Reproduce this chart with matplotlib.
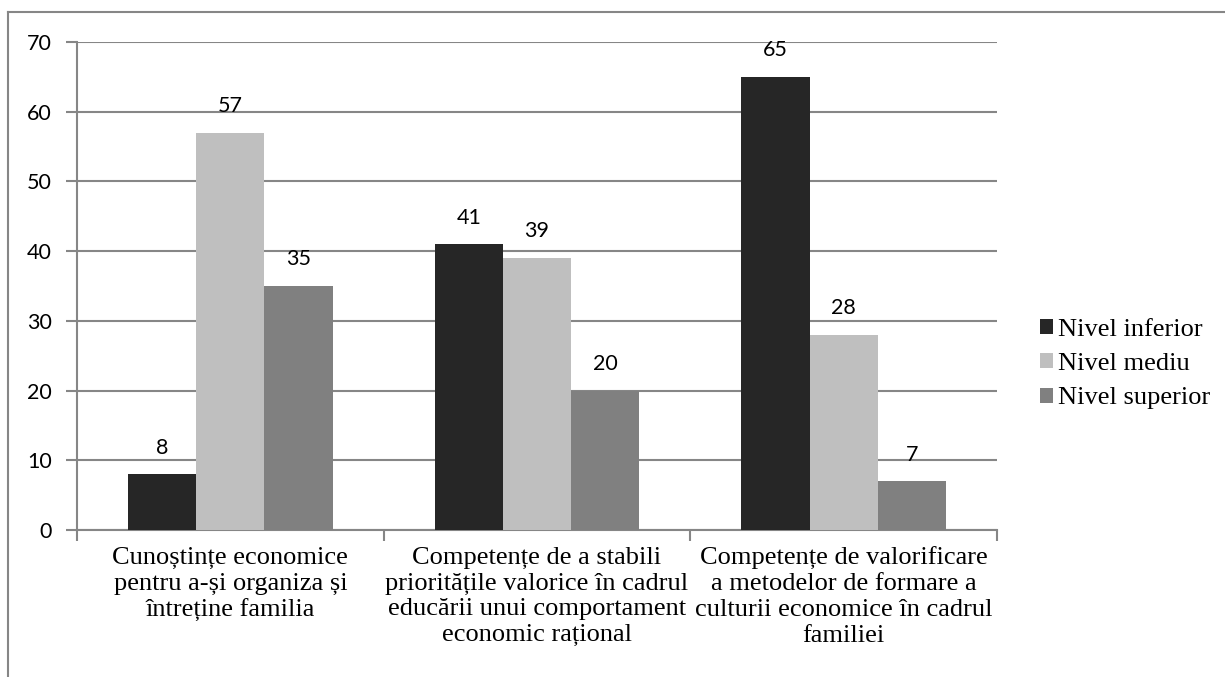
import numpy as np
import matplotlib.pyplot as plt
from matplotlib.lines import Line2D

# Data
categories = [
    "Cunoștințe economice\npentru a-și organiza și\nîntreține familia",
    "Competențe de a stabili\nprioritățile valorice în cadrul\neducării unui comportament\neconomic rațional",
    "Competențe de valorificare\na metodelor de formare a\nculturii economice în cadrul\nfamiliei",
]
series_names = ["Nivel inferior", "Nivel mediu", "Nivel superior"]
nivel_inferior = [8, 41, 65]
nivel_mediu = [57, 39, 28]
nivel_superior = [35, 20, 7]
colors = ["#262626", "#bfbfbf", "#808080"]

grid_col = "#868686"
sans = ["Lato", "DejaVu Sans"]
serif = ["Liberation Serif", "DejaVu Serif"]

fig = plt.figure(figsize=(12.25, 6.77), dpi=100)
ax = fig.add_axes([77 / 1225, 147 / 677, (997 - 77) / 1225, (530 - 42) / 677])

x = np.arange(len(categories))
w = 1 / 4.5
for i, (vals, name) in enumerate(zip([nivel_inferior, nivel_mediu, nivel_superior], series_names)):
    bars = ax.bar(x + (i - 1) * w, vals, w, color=colors[i], label=name, zorder=3)
    ax.bar_label(bars, padding=12, fontsize=15.5, family=sans, color="black")

ax.set_xlim(-0.5, 2.5)
ax.set_ylim(0, 70)
ax.set_yticks(range(0, 71, 10))
ax.yaxis.grid(True, color=grid_col, linewidth=1.5, zorder=0)
ax.tick_params(axis="y", length=8, width=1.5, color=grid_col, labelsize=15.5, pad=10)
for lbl in ax.get_yticklabels():
    lbl.set_fontfamily(sans)

# category ticks at group boundaries, labels centered on groups
ax.set_xticks([-0.5, 0.5, 1.5, 2.5])
ax.set_xticklabels([])
ax.set_xticks(x, minor=True)
ax.set_xticklabels(categories, minor=True)
ax.tick_params(axis="x", which="major", length=8, width=1.5, color=grid_col)
ax.tick_params(axis="x", which="minor", length=0, pad=12, labelsize=19)
for lbl in ax.get_xticklabels(minor=True):
    lbl.set_fontfamily(serif)
    lbl.set_linespacing(1.22)

for s in ["top", "right"]:
    ax.spines[s].set_visible(False)
for s in ["left", "bottom"]:
    ax.spines[s].set_color(grid_col)
    ax.spines[s].set_linewidth(1.5)

leg = ax.legend(loc="center left", bbox_to_anchor=(1.0467, 0.340), frameon=False,
                borderaxespad=0, borderpad=0,
                prop={"family": serif, "size": 19}, handlelength=0.5, handleheight=0.5,
                handletextpad=0.2, labelspacing=0.47)

# outer chart frame (left and top edges visible)
fig.add_artist(Line2D([8 / 1225, 8 / 1225], [0, 1 - 12 / 677], color=grid_col, linewidth=1.5))
fig.add_artist(Line2D([8 / 1225, 1], [1 - 12 / 677, 1 - 12 / 677], color=grid_col, linewidth=1.5))

fig.savefig("out.png", dpi=100)
